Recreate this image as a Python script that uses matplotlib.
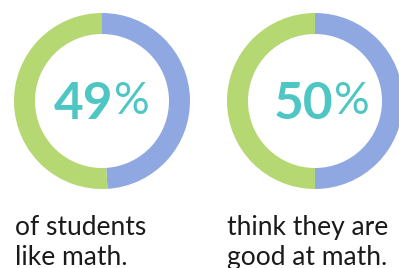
import matplotlib
matplotlib.use('Agg')
import matplotlib.pyplot as plt

# chart data
percents = [49, 50]
captions = [["of students", "like math."],
            ["think they are", "good at math."]]

blue = '#90a8e1'
green = '#b5d872'
teal = '#4ec6c4'
W, H = 399, 268


def main():
    fig = plt.figure(figsize=(W / 100, H / 100), dpi=100)
    ax = fig.add_axes([0, 0, 1, 1])

    centers_x = [102, 315]
    cy = H - 101
    split_x = [113, 333]

    for i, p in enumerate(percents):
        ax.pie([p, 100 - p], colors=[blue, green], center=(centers_x[i], cy),
               radius=88, startangle=90, counterclock=False,
               wedgeprops=dict(width=21, linewidth=0))
        ax.text(split_x[i], H - 119, str(p), ha='right', va='baseline',
                fontsize=37, fontweight='bold', family='Lato', color=teal)
        ax.text(split_x[i] + 1, H - 114, '%', ha='left', va='baseline',
                fontsize=32, family='Lato', color=teal)
        tx = [15, 227][i]
        for j, line in enumerate(captions[i]):
            ax.text(tx, H - 235 - 30 * j, line, ha='left', va='baseline',
                    fontsize=19, family='Lato', color='#1a1a1a')

    ax.set_xlim(0, W)
    ax.set_ylim(0, H)
    ax.set_aspect('equal')
    ax.axis('off')
    fig.savefig('out.png', dpi=100)


if __name__ == '__main__':
    main()
